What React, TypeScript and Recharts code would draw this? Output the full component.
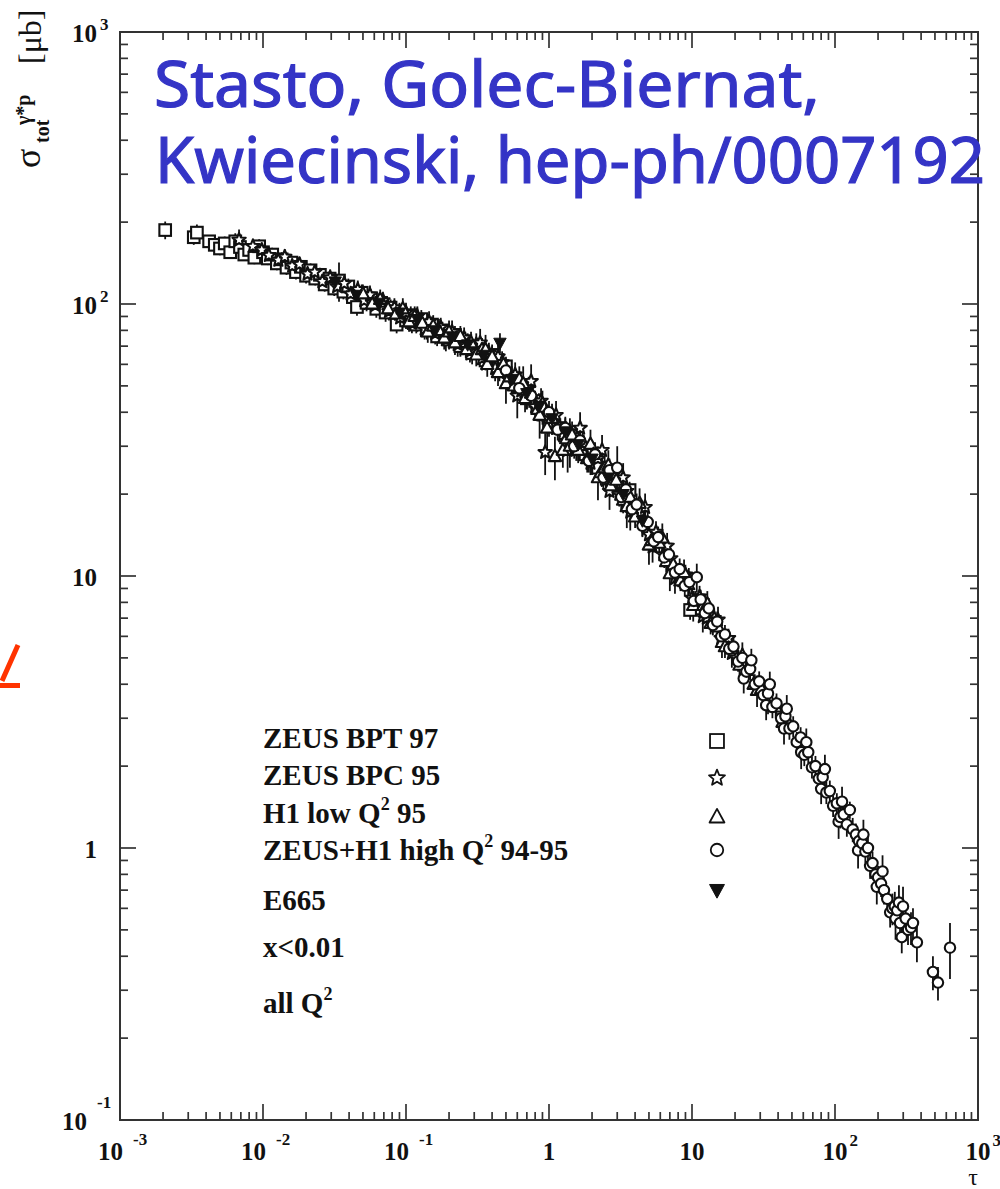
import React from 'react';
import { ScatterChart, Scatter, XAxis, YAxis, ErrorBar, ReferenceArea, Legend } from 'recharts';

const W = 1000;
const H = 1189;
const PLOT = { left: 120, right: 978, top: 32, bottom: 1120 };
const INK = '#111111';
const AXIS = '#333333';
const SERIF = '"Liberation Serif", "Times New Roman", serif';

// [tau, sigma (μb), error on sigma (μb)]
type Pt = [number, number, number];

const zeusBpt97: Pt[] = [
  [0.00207, 187, 14], [0.00328, 176, 11], [0.00345, 183, 13], [0.0042, 170, 8], [0.0046, 165, 9],
  [0.005, 160, 9], [0.0054, 167, 10], [0.0059, 155, 8], [0.0064, 170, 12], [0.0069, 162, 9],
  [0.0074, 152, 8], [0.008, 158, 9], [0.0087, 148, 8], [0.0094, 163, 10], [0.01, 155, 9],
  [0.0108, 147, 8], [0.0116, 152, 9], [0.0125, 141, 8], [0.0135, 146, 9], [0.0146, 136, 8],
  [0.0158, 142, 9], [0.017, 131, 8], [0.0184, 137, 8], [0.02, 127, 8], [0.0215, 133, 8],
  [0.0232, 124, 7], [0.025, 128, 8], [0.027, 118, 7], [0.0292, 124, 8], [0.0315, 114, 7],
  [0.034, 122, 20], [0.0365, 111, 7], [0.0395, 116, 8], [0.0425, 106, 7], [0.0454, 97.5, 7],
  [0.049, 110, 8], [0.053, 101, 7], [0.057, 105, 8], [0.062, 96, 7], [0.067, 101, 7],
  [0.072, 93, 7], [0.078, 97, 7], [0.086, 84, 6], [0.092, 92, 7], [0.1, 87, 6],
  [0.108, 91, 7], [0.118, 84, 6], [0.128, 88, 7], [0.14, 80, 6], [0.152, 84, 6],
  [0.165, 76, 6], [0.18, 80, 6], [0.2, 74, 6], [0.22, 77, 6], [0.24, 70, 6],
  [0.26, 73, 6], [0.29, 66, 6], [0.32, 69, 6], [0.36, 62, 5], [0.4, 65, 6],
  [0.45, 57, 5], [0.5, 59, 5], [0.56, 51, 5], [0.62, 50, 5], [0.7, 45, 4],
  [0.8, 44, 4], [0.9, 40, 4], [1.0, 37, 3], [1.2, 35, 3], [1.45, 31, 3],
  [1.8, 28, 2.5], [2.2, 25, 2], [3.66, 20.7, 1.5], [9.7, 7.5, 0.6],
];

const zeusBpc95: Pt[] = [
  [0.0068, 172, 16], [0.0085, 163, 10], [0.0098, 158, 10], [0.011, 151, 9], [0.0128, 145, 9],
  [0.0142, 149, 10], [0.016, 138, 8], [0.018, 140, 9], [0.0205, 129, 8], [0.023, 131, 8],
  [0.026, 121, 8], [0.0295, 125, 9], [0.033, 116, 8], [0.037, 119, 8], [0.041, 109, 8],
  [0.046, 113, 9], [0.051, 103, 8], [0.056, 108, 9], [0.061, 99, 7], [0.069, 103, 8],
  [0.076, 94, 7], [0.083, 97, 8], [0.091, 89, 7], [0.1, 93, 8], [0.11, 85, 7],
  [0.12, 90, 8], [0.135, 81, 7], [0.145, 86, 8], [0.16, 78, 7], [0.175, 82, 7],
  [0.19, 74, 7], [0.21, 79, 8], [0.23, 71, 7], [0.255, 75, 7], [0.28, 67, 6],
  [0.31, 71, 7], [0.33, 72, 9], [0.34, 63, 6], [0.38, 66, 6], [0.42, 58, 6],
  [0.44, 64, 10], [0.47, 61, 6], [0.52, 53, 5], [0.58, 55, 6], [0.6, 46, 8],
  [0.64, 48, 5], [0.72, 49, 5], [0.75, 52, 8], [0.8, 42, 4], [0.88, 44, 5],
  [0.94, 28.5, 5], [1.0, 36.5, 4], [1.12, 39, 5], [1.25, 33, 3], [1.35, 29, 5],
  [1.4, 34, 4], [1.55, 29.5, 3], [1.65, 35, 5], [1.75, 30, 3], [1.95, 26, 2.5],
  [2.2, 27, 3], [2.35, 29, 4], [2.5, 22.5, 2], [2.65, 20.5, 3], [2.8, 23.5, 2.5],
  [3.1, 20, 2], [3.3, 23, 3], [3.5, 20.5, 2], [3.7, 17.2, 2.5], [3.9, 17.5, 1.5],
  [4.4, 17.2, 1.6], [4.7, 17.9, 2.2], [5.0, 14.2, 1.2], [5.3, 12.8, 1.6], [5.6, 14.5, 1.4],
  [6.3, 12, 1], [6.7, 12.9, 1.5], [7.1, 11.6, 1.1], [7.6, 9.8, 1.2], [8.0, 10, 0.9],
  [9.0, 10.1, 0.9], [9.5, 9.6, 1.1], [10, 8.3, 0.7], [11.3, 8.4, 0.8], [11.9, 7.1, 0.9],
  [12.7, 7.0, 0.6], [14.3, 7.0, 0.6], [15.2, 6.9, 0.8], [16, 5.9, 0.5], [18, 5.9, 0.5],
  [19, 5.2, 0.6], [20.5, 5.0, 0.4],
];

const h1LowQ2: Pt[] = [
  [0.05, 109, 9], [0.058, 100, 8], [0.066, 104, 9], [0.075, 96, 8], [0.085, 92, 8],
  [0.095, 96, 9], [0.105, 86, 7], [0.115, 90, 8], [0.13, 85, 8], [0.142, 79, 7],
  [0.155, 83, 8], [0.17, 80, 8], [0.185, 75, 7], [0.2, 79, 8], [0.22, 72, 7],
  [0.24, 76, 7], [0.265, 68, 6], [0.285, 72, 7], [0.31, 65, 6], [0.34, 68, 7],
  [0.36, 68, 9], [0.37, 60, 6], [0.4, 64, 6], [0.44, 56, 6], [0.48, 60, 6],
  [0.5, 51, 8], [0.53, 54, 6], [0.57, 50, 5], [0.62, 53, 6], [0.66, 51, 8],
  [0.68, 45, 5], [0.75, 47, 5], [0.83, 41, 4], [0.86, 39, 7], [0.9, 43, 5],
  [0.97, 35, 6], [1.05, 38, 4], [1.1, 27.5, 5], [1.18, 35, 4], [1.25, 29, 4],
  [1.32, 32, 3], [1.4, 30, 5], [1.45, 33, 4], [1.6, 29, 3], [1.72, 31, 3.5],
  [1.85, 27, 3], [1.95, 30.5, 4], [2.05, 28, 3], [2.2, 23, 4], [2.3, 24, 2.5],
  [2.45, 25, 2.5], [2.6, 25.5, 3.5], [2.7, 21.5, 2], [2.95, 22.5, 2.5], [3.3, 19, 2],
  [3.5, 18, 3], [3.7, 19.5, 2], [4.0, 16.5, 1.5], [4.3, 18.5, 2.5], [4.6, 16, 1.5],
  [5.0, 13, 2], [5.2, 13.5, 1.2], [5.9, 13.2, 1.2], [6.2, 13.8, 1.8], [6.6, 11.3, 1],
  [7.0, 10.2, 1.4], [7.4, 11, 1], [8.3, 9.6, 0.8], [8.8, 10.3, 1.2], [9.4, 9.3, 0.8],
  [10.2, 7.8, 1], [10.6, 8.1, 0.7], [12, 7.8, 0.7], [12.8, 7.9, 0.9], [13.5, 6.7, 0.6],
  [15.2, 6.5, 0.6], [16.2, 5.7, 0.7], [17, 5.5, 0.5], [19, 5.4, 0.5], [21.5, 4.7, 0.4],
  [22.5, 5.1, 0.6], [24, 4.5, 0.4], [27, 4.0, 0.35], [28.5, 3.8, 0.5], [30.5, 3.85, 0.35],
  [34, 3.4, 0.3], [38.5, 3.3, 0.3], [43, 2.9, 0.25], [48, 2.85, 0.25],
];

const zeusH1HighQ2: Pt[] = [
  [0.5, 57, 6], [0.62, 49, 5], [0.75, 46, 5], [0.88, 42, 4], [1.0, 40, 4],
  [1.15, 34.5, 3], [1.3, 35, 3.5], [1.5, 30, 3], [1.65, 31.5, 3], [1.9, 26.5, 2.5],
  [2.1, 28, 3], [2.4, 23, 2], [2.65, 24.5, 2.5], [3.0, 25, 5], [3.2, 19.5, 2],
  [3.45, 20.8, 2], [3.8, 17.6, 1.6], [4.1, 18.3, 1.8], [4.5, 15.3, 1.4], [4.9, 15.8, 1.5],
  [5.4, 13.4, 1.2], [5.8, 13.9, 1.3], [6.4, 11.7, 1], [6.9, 12, 1.1], [7.6, 10.3, 0.9],
  [8.2, 10.6, 1], [8.9, 9.2, 0.8], [9.6, 9.5, 0.9], [10.3, 8.1, 0.7], [10.8, 9.9, 1.2],
  [11.5, 8.2, 0.7], [12.3, 7.3, 0.6], [13.1, 7.6, 0.7], [14, 6.6, 0.55], [15, 6.8, 0.6],
  [16, 6.0, 0.5], [17, 6.1, 0.5], [18.2, 5.4, 0.45], [19.5, 5.5, 0.5], [21, 4.85, 0.4],
  [22.5, 5.0, 0.45], [23, 4.2, 0.5], [24, 4.45, 0.38], [25.5, 4.55, 0.4], [26, 4.9, 0.5],
  [27.5, 4.0, 0.35], [29.5, 4.1, 0.36], [31.5, 3.65, 0.32], [33, 3.35, 0.4], [34, 3.7, 0.33],
  [35, 4.0, 0.45], [36.5, 3.3, 0.3], [39, 3.4, 0.3], [42, 3.0, 0.27], [44, 2.75, 0.35],
  [45, 3.05, 0.27], [46, 3.25, 0.4], [48, 2.75, 0.25], [51, 2.8, 0.25], [54, 2.45, 0.22],
  [57.5, 2.55, 0.23], [58, 2.25, 0.3], [61, 2.2, 0.2], [63, 2.45, 0.3], [65, 2.25, 0.2],
  [69, 1.98, 0.18], [73, 2.0, 0.18], [77, 1.8, 0.16], [80, 1.65, 0.2], [82, 1.82, 0.16],
  [85, 1.95, 0.25], [87, 1.6, 0.15], [92, 1.62, 0.15], [97, 1.43, 0.13], [103, 1.46, 0.13],
  [106, 1.25, 0.17], [109, 1.3, 0.12], [112, 1.48, 0.2], [115, 1.33, 0.13], [121, 1.22, 0.12],
  [127, 1.38, 0.1], [133, 1.17, 0.12], [140, 1.12, 0.11], [145, 0.98, 0.14], [147, 1.06, 0.1],
  [155, 1.04, 0.1], [158, 1.12, 0.15], [163, 0.97, 0.09], [170, 1.0, 0.1], [176, 0.86, 0.09],
  [183, 0.88, 0.09], [192, 0.8, 0.08], [196, 0.72, 0.1], [200, 0.78, 0.08], [210, 0.74, 0.08],
  [215, 0.82, 0.12], [220, 0.7, 0.08], [232, 0.65, 0.07], [243, 0.58, 0.07], [252, 0.6, 0.08],
  [262, 0.61, 0.08], [265, 0.55, 0.09], [272, 0.59, 0.07], [280, 0.63, 0.1], [285, 0.53, 0.07],
  [293, 0.47, 0.06], [299, 0.61, 0.11], [312, 0.55, 0.08], [324, 0.5, 0.06], [340, 0.51, 0.07],
  [351, 0.53, 0.07], [374, 0.45, 0.07], [484, 0.35, 0.05], [525, 0.32, 0.045], [637, 0.43, 0.1],
];

const e665Data: Pt[] = [
  [0.032, 121, 10], [0.045, 108, 9], [0.065, 101, 9], [0.09, 93, 8], [0.12, 88, 9],
  [0.16, 80, 8], [0.21, 76, 7], [0.27, 71, 7], [0.35, 65, 7], [0.454, 72, 6],
  [0.55, 53, 6], [0.7, 47, 6], [0.85, 42, 5], [1.05, 38, 5], [1.3, 34, 4],
  [1.6, 30.5, 4], [2.0, 27, 3.5], [2.6, 23, 3], [3.3, 20, 2.5], [4.5, 16, 2],
];

const seriesNames = ['ZEUS BPT 97', 'ZEUS BPC 95', 'H1 low Q2 95', 'ZEUS+H1 high Q2 94-95', 'E665'];
const noteLines = ['x<0.01', 'all Q2'];

const xDecades = [0.001, 0.01, 0.1, 1, 10, 100, 1000];
const yDecades = [0.1, 1, 10, 100, 1000];
const minorSteps = [2, 3, 4, 5, 6, 7, 8, 9];
const xTickLabels: [string, string][] = [['10', '-3'], ['10', '-2'], ['10', '-1'], ['1', ''], ['10', ''], ['10', '2'], ['10', '3']];
const yTickLabels: [string, string][] = [['10', '-1'], ['1', ''], ['10', ''], ['10', '2'], ['10', '3']];

const withMinors = (decades: number[]) => {
  const out: number[] = [];
  decades.forEach((d, i) => {
    out.push(d);
    if (i < decades.length - 1) minorSteps.forEach((m) => out.push(d * m));
  });
  return out;
};
const xTicks = withMinors(xDecades);
const yTicks = withMinors(yDecades);

const toRows = (pts: Pt[]) => pts.map(([t, s, e]) => ({ t, s, e }));

// ---- marker glyphs ----
const starPath = (cx: number, cy: number, R: number, r: number) => {
  let d = '';
  for (let k = 0; k < 10; k++) {
    const a = -Math.PI / 2 + (k * Math.PI) / 5;
    const rad = k % 2 === 0 ? R : r;
    d += (k === 0 ? 'M' : 'L') + (cx + rad * Math.cos(a)).toFixed(2) + ',' + (cy + rad * Math.sin(a)).toFixed(2);
  }
  return d + 'Z';
};

const Marker = ({ kind, cx, cy, s = 1, sw = 2.1 }: { kind: number; cx: number; cy: number; s?: number; sw?: number }) => {
  if (kind === 0) {
    const h = 5.8 * s;
    return <rect x={cx - h} y={cy - h} width={2 * h} height={2 * h} fill="#fff" stroke={INK} strokeWidth={sw} />;
  }
  if (kind === 1) return <path d={starPath(cx, cy, 7 * s, 3.1 * s)} fill="#fff" stroke={INK} strokeWidth={sw} strokeLinejoin="round" />;
  if (kind === 2) {
    const pts = `${cx},${cy - 6.8 * s} ${cx + 6.2 * s},${cy + 4.6 * s} ${cx - 6.2 * s},${cy + 4.6 * s}`;
    return <polygon points={pts} fill="#fff" stroke={INK} strokeWidth={sw} strokeLinejoin="round" />;
  }
  if (kind === 3) return <circle cx={cx} cy={cy} r={5.2 * s} fill="#fff" stroke={INK} strokeWidth={sw} />;
  const pts = `${cx - 6.2 * s},${cy - 4.6 * s} ${cx + 6.2 * s},${cy - 4.6 * s} ${cx},${cy + 6.8 * s}`;
  return <polygon points={pts} fill={INK} stroke={INK} strokeWidth={1} strokeLinejoin="round" />;
};

const shapeFor = (kind: number) => (p: any) => <Marker kind={kind} cx={p.cx} cy={p.cy} />;

// ---- axes ----
const XTick = (props: any) => {
  const { x, payload } = props;
  const i = xDecades.indexOf(payload.value);
  const len = i >= 0 ? 16 : 8;
  let label = null;
  if (i >= 0) {
    const [base, exp] = xTickLabels[i];
    const neg = exp.startsWith('-');
    label = (
      <g fontFamily={SERIF} fontWeight="bold" fill={INK}>
        <text x={neg ? x - 9.5 : x} y={1160} fontSize={25} textAnchor="middle">{base}</text>
        {exp && <text x={neg ? x + 13 : x + 14.5} y={neg ? 1145 : 1146} fontSize={17}>{exp}</text>}
      </g>
    );
  }
  return (
    <g>
      <line x1={x} x2={x} y1={PLOT.bottom} y2={PLOT.bottom - len} stroke={AXIS} strokeWidth={1.7} />
      <line x1={x} x2={x} y1={PLOT.top} y2={PLOT.top + len} stroke={AXIS} strokeWidth={1.7} />
      {label}
    </g>
  );
};

const YTick = (props: any) => {
  const { y, payload } = props;
  const i = yDecades.indexOf(payload.value);
  const len = i >= 0 ? 16 : 8;
  let label = null;
  if (i >= 0) {
    const [base, exp] = yTickLabels[i];
    const neg = exp.startsWith('-');
    label = (
      <g fontFamily={SERIF} fontWeight="bold" fill={INK}>
        <text x={neg ? 87 : 97} y={y + 10} fontSize={25} textAnchor="end">{base}</text>
        {exp && <text x={neg ? 97 : 100} y={neg ? y - 12 : y - 2} fontSize={17}>{exp}</text>}
      </g>
    );
  }
  return (
    <g>
      <line x1={PLOT.left} x2={PLOT.left + len} y1={y} y2={y} stroke={AXIS} strokeWidth={1.7} />
      <line x1={PLOT.right} x2={PLOT.right - len} y1={y} y2={y} stroke={AXIS} strokeWidth={1.7} />
      {label}
    </g>
  );
};

const YTitle = () => (
  <text transform="translate(40,168) rotate(-90)" fontFamily={SERIF} fill={INK}>
    <tspan x={0} y={0} fontSize={36}>σ</tspan>
    <tspan x={25} y={9} fontSize={20} fontWeight="bold">tot</tspan>
    <tspan x={43} y={-10} fontSize={20} fontWeight="bold">γ*p</tspan>
    <tspan x={104} y={1} fontSize={32}>[μb]</tspan>
  </text>
);

const XTitle = () => (
  <text x={973} y={1185} fontFamily={SERIF} fontSize={24} textAnchor="middle" fill={INK}>τ</text>
);

// ---- legend ----
const legendBaselines = [748, 785, 823, 860, 910];
const legendMarkY = [741, 778, 817, 850, 890];
const noteBaselines = [957, 1013];

const withSup = (label: string) => {
  const m = label.match(/^(.*Q)2(.*)$/);
  if (!m) return label;
  return (
    <>
      {m[1]}
      <tspan fontSize={18} dy={-13}>2</tspan>
      <tspan dy={13}>{m[2]}</tspan>
    </>
  );
};

const LegendBox = ({ payload }: any) => (
  <svg width={W} height={H} style={{ position: 'absolute', left: 0, top: 0, overflow: 'visible' }}>
    <g fontFamily={SERIF} fontWeight="bold" fontSize={29} fill={INK}>
      {(payload || []).map((entry: any) => {
        const i = seriesNames.indexOf(String(entry.value));
        if (i < 0) return null;
        return (
          <g key={entry.value}>
            <text x={263} y={legendBaselines[i]}>{withSup(String(entry.value))}</text>
            <Marker kind={i} cx={717} cy={legendMarkY[i]} s={1.2} sw={1.8} />
          </g>
        );
      })}
      {noteLines.map((t, i) => (
        <text key={t} x={263} y={noteBaselines[i]}>{withSup(t)}</text>
      ))}
    </g>
  </svg>
);

const seriesData = [zeusBpt97, zeusBpc95, h1LowQ2, zeusH1HighQ2, e665Data];

export default function App() {
  return (
    <div style={{ position: 'absolute', left: 0, top: 0, width: W, height: H, background: '#fff' }}>
      <ScatterChart width={W} height={H} margin={{ top: PLOT.top, right: W - PLOT.right, bottom: 0, left: 0 }}>
        <XAxis
          type="number"
          dataKey="t"
          scale="log"
          domain={[0.001, 1000]}
          allowDataOverflow
          ticks={xTicks}
          interval={0}
          tick={XTick}
          tickLine={false}
          axisLine={false}
          tickSize={0}
          tickMargin={0}
          height={H - PLOT.bottom}
          label={<XTitle />}
        />
        <YAxis
          type="number"
          dataKey="s"
          scale="log"
          domain={[0.1, 1000]}
          allowDataOverflow
          ticks={yTicks}
          interval={0}
          tick={YTick}
          tickLine={false}
          axisLine={false}
          tickSize={0}
          tickMargin={0}
          width={PLOT.left}
          label={<YTitle />}
        />
        <ReferenceArea x1={0.001} x2={1000} y1={0.1} y2={1000} fill="none" fillOpacity={0} stroke={AXIS} strokeWidth={2} />
        {seriesData.map((pts, k) => (
          <Scatter key={seriesNames[k]} name={seriesNames[k]} data={toRows(pts)} shape={shapeFor(k)} isAnimationActive={false}>
            <ErrorBar dataKey="e" direction="y" width={0} stroke={INK} strokeWidth={1.8} />
          </Scatter>
        ))}
        <Legend
          layout="vertical"
          align="center"
          verticalAlign="middle"
          wrapperStyle={{ left: 0, top: 0, width: W, height: H, pointerEvents: 'none' }}
          content={(p: any) => <LegendBox payload={p.payload} />}
        />
      </ScatterChart>
      <svg width={W} height={H} style={{ position: 'absolute', left: 0, top: 0, pointerEvents: 'none', overflow: 'visible' }}>
        <g fontFamily='"Noto Sans", "DejaVu Sans", sans-serif' fontSize={64} fill="#3434c6" stroke="#3434c6" strokeWidth={1.2}>
          <text x={154} y={107} textLength={666} lengthAdjust="spacingAndGlyphs">Stasto, Golec-Biernat,</text>
          <text x={155} y={183} textLength={830} lengthAdjust="spacingAndGlyphs">Kwiecinski, hep-ph/0007192</text>
        </g>
        <path d="M18,645 L2,681 M0,685.5 L20,685.5" stroke="#ff3300" strokeWidth={5} fill="none" />
      </svg>
    </div>
  );
}
